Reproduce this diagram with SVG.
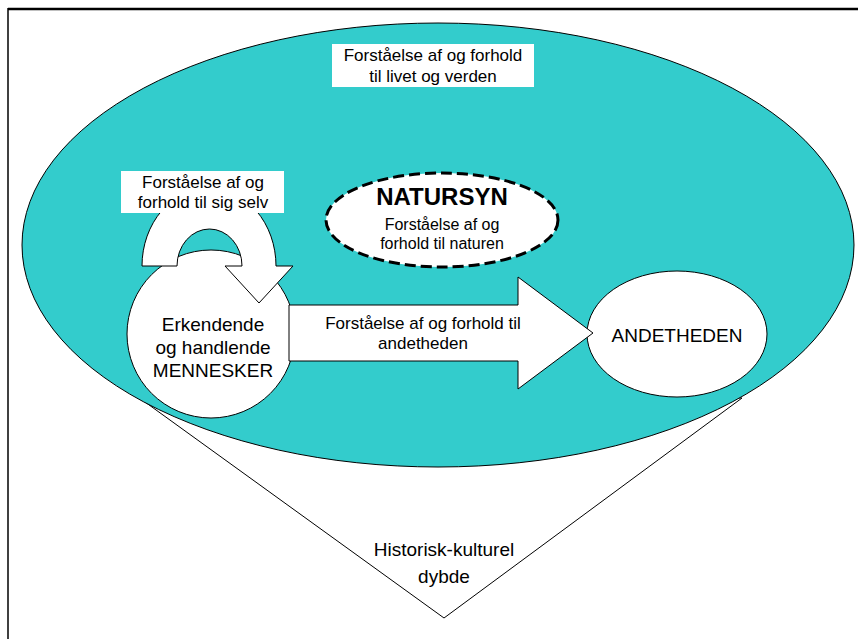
<svg xmlns="http://www.w3.org/2000/svg" width="858" height="639" viewBox="0 0 858 639">
<style>
text{font-family:"Liberation Sans",Arial,sans-serif;fill:#000;text-anchor:middle}
.s{stroke:#000;stroke-width:1}
.w{fill:#fff}
.t16{font-size:16px}
.t17{font-size:17px}
.t19{font-size:19px}
</style>
<rect width="858" height="639" fill="#fff"/>
<g id="frame">
<line x1="8" y1="9" x2="858" y2="9" stroke="#000" stroke-width="2.5"/>
<line x1="8" y1="8" x2="8" y2="639" stroke="#000" stroke-width="1.5"/>
</g>
<g id="depth">
<polygon class="s w" points="145,402 444,618 742,398"/>
<text class="t19" x="444" y="556">Historisk-kulturel</text>
<text class="t19" x="444" y="583">dybde</text>
</g>
<g id="world">
<ellipse class="s" cx="438" cy="245" rx="416" ry="222" fill="#33CCCC"/>
<rect x="332" y="44" width="202" height="43" fill="#fff"/>
<text class="t17" x="433" y="61">Forståelse af og forhold</text>
<text class="t17" x="433" y="82">til livet og verden</text>
</g>
<g id="natursyn">
<ellipse cx="442" cy="220" rx="116" ry="47" fill="#fff" stroke="#000" stroke-width="3" stroke-dasharray="11 5"/>
<text x="442" y="205" style="font-size:24px;font-weight:bold">NATURSYN</text>
<text class="t16" x="442" y="230">Forståelse af og</text>
<text class="t16" x="442" y="249">forhold til naturen</text>
</g>
<g id="mennesker">
<circle class="s w" cx="211" cy="334" r="84"/>
<text class="t19" x="213" y="331">Erkendende</text>
<text class="t19" x="213" y="354">og handlende</text>
<text class="t19" x="213" y="377">MENNESKER</text>
</g>
<g id="andetheden">
<ellipse class="s w" cx="677" cy="334" rx="90" ry="63"/>
<text class="t19" x="677" y="342">ANDETHEDEN</text>
</g>
<g id="connectors">
<g id="self-arrow">
<path class="s w" d="M142,266 A67,78 0 0 1 276,266 L293,266 L259,303 L225,266 L242,266 A32.5,37 0 0 0 177,266 Z"/>
<rect x="121" y="171" width="163" height="42" fill="#fff"/>
<text class="t17" x="203" y="188">Forståelse af og</text>
<text class="t17" x="203" y="208">forhold til sig selv</text>
</g>
<g id="other-arrow">
<polygon class="s w" points="289,305 518,305 518,277 593,333 518,389 518,361 289,361"/>
<text class="t17" x="423" y="329">Forståelse af og forhold til</text>
<text class="t17" x="423" y="349">andetheden</text>
</g>
</g>
</svg>
